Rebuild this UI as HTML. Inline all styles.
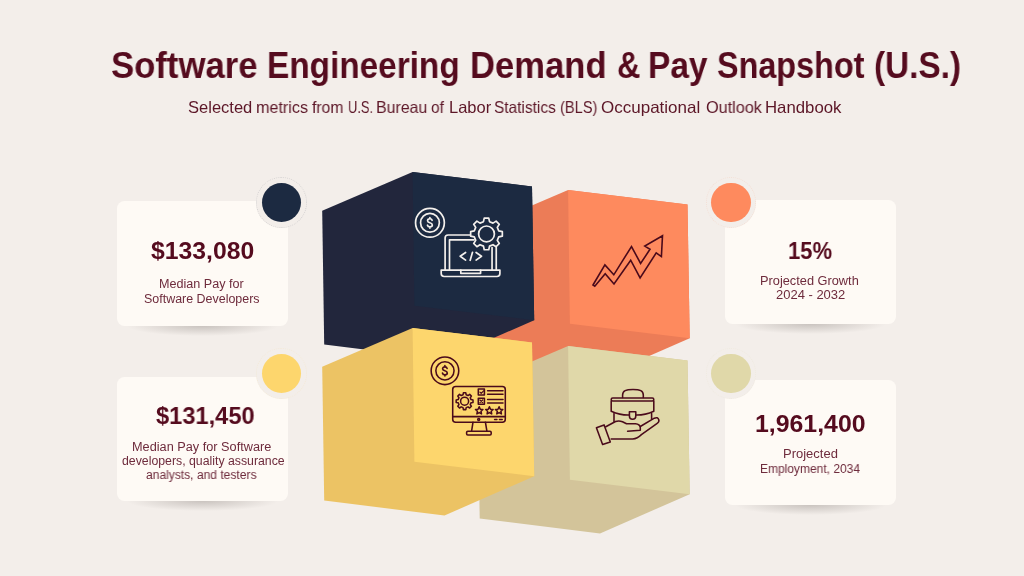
<!DOCTYPE html>
<html><head><meta charset="utf-8"><style>
*{margin:0;padding:0;box-sizing:border-box}
html,body{width:1024px;height:576px;overflow:hidden;background:#f3eeea}
body{position:relative;font-family:"Liberation Sans",sans-serif;-webkit-font-smoothing:antialiased}
span{position:absolute;white-space:nowrap;transform-origin:0 0;will-change:transform}
.card{position:absolute;background:#fefaf5;border-radius:7.5px}
.shadow{position:absolute;height:20px;background:radial-gradient(closest-side,rgba(70,60,55,.24),rgba(70,60,55,0))}
.ring{position:absolute;width:50.5px;height:50.5px;border-radius:50%;background:#f3eeea;border:1px dotted #eee9e5}
.dot{position:absolute;width:39.3px;height:39.3px;border-radius:50%}
svg{position:absolute;left:0;top:0}
</style></head><body>
<div class="shadow" style="left:127px;top:316px;width:151px"></div>
<div class="card" style="left:117px;top:201px;width:171px;height:125px"></div>
<div class="shadow" style="left:127px;top:491px;width:151px"></div>
<div class="card" style="left:117px;top:376.5px;width:171px;height:124.5px"></div>
<div class="shadow" style="left:735px;top:314.2px;width:151px"></div>
<div class="card" style="left:725px;top:199.5px;width:170.5px;height:124.7px"></div>
<div class="shadow" style="left:735px;top:495.4px;width:151px"></div>
<div class="card" style="left:725px;top:379.8px;width:170.5px;height:125.6px"></div>
<div class="ring" style="left:256.05px;top:177.45px;border-color:rgba(28,42,65,.13)"></div>
<div class="dot" style="left:261.65px;top:183.05px;background:#1c2a41"></div>
<div class="ring" style="left:256.05px;top:348.15px;border-color:rgba(253,214,109,.13)"></div>
<div class="dot" style="left:261.65px;top:353.75px;background:#fdd66d"></div>
<div class="ring" style="left:705.85px;top:177.35px;border-color:rgba(254,138,94,.13)"></div>
<div class="dot" style="left:711.45px;top:182.95px;background:#fe8a5e"></div>
<div class="ring" style="left:705.85px;top:348.15px;border-color:rgba(224,216,169,.13)"></div>
<div class="dot" style="left:711.45px;top:353.75px;background:#e0d8a9"></div>
<span style="left:110.96px;top:43.68px;font-size:37px;line-height:44.4px;font-weight:bold;color:#550b1e;transform:scaleX(0.9377)">Software</span>
<span style="left:267.00px;top:43.68px;font-size:37px;line-height:44.4px;font-weight:bold;color:#550b1e;transform:scaleX(0.9014)">Engineering</span>
<span style="left:470.33px;top:43.68px;font-size:37px;line-height:44.4px;font-weight:bold;color:#550b1e;transform:scaleX(0.9352)">Demand</span>
<span style="left:616.62px;top:43.68px;font-size:37px;line-height:44.4px;font-weight:bold;color:#550b1e;transform:scaleX(0.8760)">&amp;</span>
<span style="left:647.59px;top:43.68px;font-size:37px;line-height:44.4px;font-weight:bold;color:#550b1e;transform:scaleX(0.9031)">Pay</span>
<span style="left:717.23px;top:43.68px;font-size:37px;line-height:44.4px;font-weight:bold;color:#550b1e;transform:scaleX(0.8744)">Snapshot</span>
<span style="left:874.20px;top:43.68px;font-size:37px;line-height:44.4px;font-weight:bold;color:#550b1e;transform:scaleX(0.9011)">(U.S.)</span>
<span style="left:187.90px;top:97.98px;font-size:16.5px;line-height:19.8px;color:#5c1627;transform:scaleX(1.0016)">Selected</span>
<span style="left:255.92px;top:97.98px;font-size:16.5px;line-height:19.8px;color:#5c1627;transform:scaleX(0.9769)">metrics</span>
<span style="left:312.40px;top:97.98px;font-size:16.5px;line-height:19.8px;color:#5c1627;transform:scaleX(0.9531)">from</span>
<span style="left:347.52px;top:97.98px;font-size:16.5px;line-height:19.8px;color:#5c1627;transform:scaleX(0.7800)">U.S.</span>
<span style="left:376.04px;top:97.98px;font-size:16.5px;line-height:19.8px;color:#5c1627;transform:scaleX(0.9647)">Bureau</span>
<span style="left:431.40px;top:97.98px;font-size:16.5px;line-height:19.8px;color:#5c1627;transform:scaleX(0.9357)">of</span>
<span style="left:448.70px;top:97.98px;font-size:16.5px;line-height:19.8px;color:#5c1627;transform:scaleX(1.0000)">Labor</span>
<span style="left:494.46px;top:97.98px;font-size:16.5px;line-height:19.8px;color:#5c1627;transform:scaleX(0.9369)">Statistics</span>
<span style="left:560.11px;top:97.98px;font-size:16.5px;line-height:19.8px;color:#5c1627;transform:scaleX(0.8854)">(BLS)</span>
<span style="left:601.20px;top:97.98px;font-size:16.5px;line-height:19.8px;color:#5c1627;transform:scaleX(1.0302)">Occupational</span>
<span style="left:705.50px;top:97.98px;font-size:16.5px;line-height:19.8px;color:#5c1627;transform:scaleX(0.9842)">Outlook</span>
<span style="left:765.48px;top:97.98px;font-size:16.5px;line-height:19.8px;color:#5c1627;transform:scaleX(1.0162)">Handbook</span>
<span style="left:150.80px;top:237.48px;font-size:24px;line-height:28.8px;font-weight:bold;color:#550b1e;transform:scaleX(1.0310)">$133,080</span>
<span style="left:156.10px;top:401.98px;font-size:24px;line-height:28.8px;font-weight:bold;color:#550b1e;transform:scaleX(0.9850)">$131,450</span>
<span style="left:787.68px;top:237.48px;font-size:24px;line-height:28.8px;font-weight:bold;color:#550b1e;transform:scaleX(0.9170)">15%</span>
<span style="left:754.56px;top:410.28px;font-size:24px;line-height:28.8px;font-weight:bold;color:#550b1e;transform:scaleX(1.0352)">1,961,400</span>
<span style="left:159.07px;top:277.36px;font-size:12.3px;line-height:14.76px;color:#6e2b3c;transform:scaleX(1.0256)">Median Pay for</span>
<span style="left:144.29px;top:291.86px;font-size:12.3px;line-height:14.76px;color:#6e2b3c;transform:scaleX(1.0124)">Software Developers</span>
<span style="left:132.47px;top:439.76px;font-size:12.3px;line-height:14.76px;color:#6e2b3c;transform:scaleX(1.0346)">Median Pay for Software</span>
<span style="left:121.70px;top:453.76px;font-size:12.3px;line-height:14.76px;color:#6e2b3c;transform:scaleX(1.0000)">developers, quality assurance</span>
<span style="left:145.80px;top:467.86px;font-size:12.3px;line-height:14.76px;color:#6e2b3c;transform:scaleX(0.9796)">analysts, and testers</span>
<span style="left:760.46px;top:273.76px;font-size:12.3px;line-height:14.76px;color:#6e2b3c;transform:scaleX(1.0394)">Projected Growth</span>
<span style="left:775.80px;top:288.11px;font-size:12.3px;line-height:14.76px;color:#6e2b3c;transform:scaleX(1.0554)">2024 - 2032</span>
<span style="left:783.14px;top:446.96px;font-size:12.3px;line-height:14.76px;color:#6e2b3c;transform:scaleX(1.0560)">Projected</span>
<span style="left:759.62px;top:461.86px;font-size:12.3px;line-height:14.76px;color:#6e2b3c;transform:scaleX(0.9755)">Employment, 2034</span>
<svg width="1024" height="576" viewBox="0 0 1024 576">
  <!-- orange -->
  <g transform="translate(155.5,18)">
    <polygon fill="#ec7c57" points="322.2,210.8 412.6,171.9 532,186.5 534.2,320.2 444.5,359.5 324.2,344.6"/>
    <polygon fill="#fe8a5e" points="412.6,171.9 532,186.5 534.2,320.2 414.4,305.7"/>
  </g>
  <!-- navy -->
  <g>
    <polygon fill="#22263c" points="322.2,210.8 412.6,171.9 532,186.5 534.2,320.2 444.5,359.5 324.2,344.6"/>
    <polygon fill="#1c2a41" points="412.6,171.9 532,186.5 534.2,320.2 414.4,305.7"/>
  </g>
  <!-- tan -->
  <g transform="translate(155.5,174)">
    <polygon fill="#d3c49a" points="322.2,210.8 412.6,171.9 532,186.5 534.2,320.2 444.5,359.5 324.2,344.6"/>
    <polygon fill="#e0d8a9" points="412.6,171.9 532,186.5 534.2,320.2 414.4,305.7"/>
  </g>
  <!-- yellow -->
  <g transform="translate(0,156)">
    <polygon fill="#ecc364" points="322.2,210.8 412.6,171.9 532,186.5 534.2,320.2 444.5,359.5 324.2,344.6"/>
    <polygon fill="#fdd66d" points="412.6,171.9 532,186.5 534.2,320.2 414.4,305.7"/>
  </g>
  <!-- icon 1: laptop, white -->
  <g fill="none" stroke="#f4f0ec" stroke-width="1.7" stroke-linecap="round" stroke-linejoin="round">
    <circle cx="429.95" cy="222.8" r="14.4"/>
    <circle cx="429.95" cy="222.8" r="9.4"/>
    <path transform="translate(429.9,222.8) scale(0.97)" stroke-width="1.75" d="M2.3,-2.6 C2.0,-3.8 1.0,-4.2 0,-4.2 C-1.4,-4.2 -2.4,-3.4 -2.4,-2.2 C-2.4,-0.8 -1.2,-0.4 0,0 C1.3,0.4 2.5,0.9 2.5,2.2 C2.5,3.5 1.4,4.2 0,4.2 C-1.1,4.2 -2.2,3.7 -2.5,2.5 M0,-4.2 V-5.4 M0,4.2 V5.4"/>
    <path d="M445.1,270.1 V238 Q445.1,235 448.1,235 H478 M496.25,247.5 V270.1"/>
    <path d="M449.5,270.1 V239.8 H474 M492.05,247.5 V270.1"/>
    <path d="M441.2,270.1 H499.9 V273.6 Q499.9,276.5 497,276.5 H444.1 Q441.2,276.5 441.2,273.6 Z"/>
    <path d="M460.8,270.1 V273.3 H480.6 V270.1"/>
    <path d="M465.6,252.5 L460.2,256.3 L465.6,260.1 M472.5,252.3 L470.2,260.3 M476.1,252.5 L481.5,256.3 L476.1,260.1"/>
    <path fill="#1c2a41" d="M483.46,221.67 L484.25,218.06 L488.75,218.06 L489.54,221.67 L493.00,223.11 L496.11,221.11 L499.29,224.29 L497.29,227.40 L498.73,230.86 L502.34,231.65 L502.34,236.15 L498.73,236.94 L497.29,240.40 L499.29,243.51 L496.11,246.69 L493.00,244.69 L489.54,246.13 L488.75,249.74 L484.25,249.74 L483.46,246.13 L480.00,244.69 L476.89,246.69 L473.71,243.51 L475.71,240.40 L474.27,236.94 L470.66,236.15 L470.66,231.65 L474.27,230.86 L475.71,227.40 L473.71,224.29 L476.89,221.11 L480.00,223.11Z"/>
    <circle cx="486.5" cy="233.9" r="7.9"/>
  </g>
  <!-- icon 2: trend arrow -->
  <path fill="none" stroke="#4a0a1b" stroke-width="1.6" stroke-linejoin="miter" d="M593,285 L604.9,264.9 L613.8,274.8 L631.5,246.5 L640.6,263.5 L650,249.3 L644.8,246.1 L662.5,235.7 L661.4,256.6 L656.2,252.9 L640.1,277.9 L630.7,260.2 L614,284 L605.2,273.75 L594.8,286.25 Z"/>
  <!-- icon 3: monitor, maroon -->
  <g fill="none" stroke="#4a0a1b" stroke-width="1.55" stroke-linecap="round" stroke-linejoin="round">
    <circle cx="444.95" cy="370.8" r="13.8"/>
    <circle cx="444.95" cy="370.8" r="9.1"/>
    <path transform="translate(444.9,370.8) scale(0.95)" stroke-width="1.75" d="M2.3,-2.6 C2.0,-3.8 1.0,-4.2 0,-4.2 C-1.4,-4.2 -2.4,-3.4 -2.4,-2.2 C-2.4,-0.8 -1.2,-0.4 0,0 C1.3,0.4 2.5,0.9 2.5,2.2 C2.5,3.5 1.4,4.2 0,4.2 C-1.1,4.2 -2.2,3.7 -2.5,2.5 M0,-4.2 V-5.4 M0,4.2 V5.4"/>
    <rect x="452.7" y="386.5" width="52.6" height="35.7" rx="3"/>
    <path d="M452.7,416.6 H505.3"/>
    <circle cx="478.7" cy="419.4" r="1"/>
    <path d="M494.6,419.4 H496.9 M499.5,419.4 H502.2"/>
    <path d="M473,422.2 L471.6,431.2 M485.4,422.2 L486.9,431.2"/>
    <rect x="466.6" y="431.2" width="24.6" height="3.7" rx="1.2"/>
    <path d="M463.01,394.79 L463.40,392.78 L465.80,392.78 L466.19,394.79 L468.00,395.55 L469.70,394.40 L471.40,396.10 L470.25,397.80 L471.01,399.61 L473.02,400.00 L473.02,402.40 L471.01,402.79 L470.25,404.60 L471.40,406.30 L469.70,408.00 L468.00,406.85 L466.19,407.61 L465.80,409.62 L463.40,409.62 L463.01,407.61 L461.20,406.85 L459.50,408.00 L457.80,406.30 L458.95,404.60 L458.19,402.79 L456.18,402.40 L456.18,400.00 L458.19,399.61 L458.95,397.80 L457.80,396.10 L459.50,394.40 L461.20,395.55Z"/>
    <circle cx="464.6" cy="401.2" r="4.0"/>
    <rect x="478.3" y="388.9" width="6.1" height="6.1"/>
    <rect x="478.3" y="398.2" width="6.1" height="6.1"/>
    <path stroke-width="1.2" d="M479.9,392.1 L481.2,393.4 L483.6,390.8"/>
    <path stroke-width="1.2" d="M479.9,400.0 L482.6,402.7 M482.6,400.0 L479.9,402.7"/>
    <path d="M487.6,390.8 H503 M487.6,394.2 H503 M487.6,399.5 H503 M487.6,402.9 H503"/>
    <path id="star" d="M479.2,406.8 L480.3,409.2 L482.9,409.5 L481,411.3 L481.5,413.9 L479.2,412.6 L476.9,413.9 L477.4,411.3 L475.5,409.5 L478.1,409.2 Z"/>
    <path transform="translate(10.2,0)" d="M479.2,406.8 L480.3,409.2 L482.9,409.5 L481,411.3 L481.5,413.9 L479.2,412.6 L476.9,413.9 L477.4,411.3 L475.5,409.5 L478.1,409.2 Z"/>
    <path transform="translate(19.9,0)" d="M479.2,406.8 L480.3,409.2 L482.9,409.5 L481,411.3 L481.5,413.9 L479.2,412.6 L476.9,413.9 L477.4,411.3 L475.5,409.5 L478.1,409.2 Z"/>
  </g>
  <!-- icon 4: briefcase in hand -->
  <g fill="none" stroke="#4a0a1b" stroke-width="1.55" stroke-linecap="round" stroke-linejoin="round">
    <path d="M622.6,397.5 V395 C622.6,390.6 626,389.5 633,389.5 C640,389.5 643.3,390.6 643.3,395 V397.5"/>
    <rect x="611.2" y="397.9" width="42.6" height="3.1" rx="1.5"/>
    <path d="M611.2,401 V411.2 Q621,415.4 629.3,415 M635.8,415 Q645,415.2 653.8,411.2 V401"/>
    <path d="M629.4,411.8 H635.8 V416 Q635.8,419.3 632.6,419.3 Q629.4,419.3 629.4,416 Z"/>
    <path d="M614,413.5 V421.5 M651.6,413.5 V418.8"/>
    <path d="M596.4,427.7 L604.1,424.9 L610.3,442 L602.6,444.5 Z"/>
    <path d="M605.8,426.8 L615.5,421.5 Q619,420.2 622.5,421.8 L626.5,423.8 H635.5 Q639.8,424.2 640.3,427.5 V430.3 L627.6,431.3"/>
    <path d="M640.3,426.5 L654.3,418.2 Q657.8,416.6 658.8,419.8 Q659.4,422 657.2,423.3 L641.4,434.6 Q637.5,438.6 632.6,438.9 H611.2"/>
  </g>
</svg>
</body></html>
